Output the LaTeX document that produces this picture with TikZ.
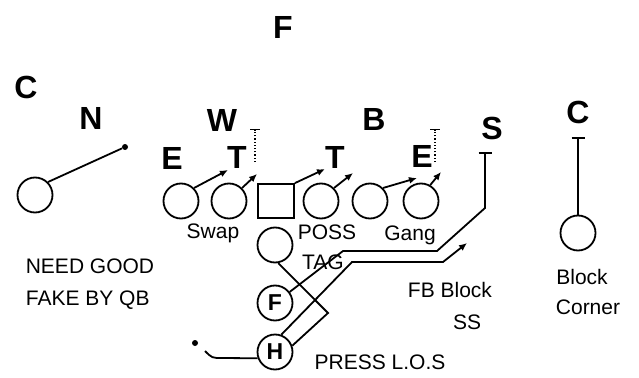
\documentclass[tikz,border=0pt]{standalone}
\usepackage{fontspec}
\setmainfont{Liberation Sans}
\usetikzlibrary{arrows,arrows.meta}

\begin{document}
\begin{tikzpicture}[
x=1pt, y=-1pt,
def/.style={font=\fontsize{32}{32}\selectfont\bfseries, inner sep=0pt},
note/.style={font=\fontsize{21}{32}\selectfont, inner sep=0pt},
player/.style={circle, draw, line width=1.8pt, minimum size=35pt, inner sep=0pt},
snapper/.style={rectangle, draw, line width=1.8pt, minimum width=36pt, minimum height=34pt, inner sep=0pt},
back/.style={player, font=\fontsize{23}{23}\selectfont\bfseries},
dot/.style={circle, fill, inner sep=0pt, minimum size=6pt},
route/.style={line width=1.8pt},
arrow/.style={-{Latex[length=8pt,width=7pt]}, line width=1.8pt},
stop/.style={-{Bar[width=13pt]}, line width=1.8pt},
read/.style={-{Bar[width=10pt]}, dotted, line width=1.2pt}
]

\useasboundingbox (0,0) rectangle (639,377);

\node[def] (FS) at (283,27) {F};

\node[def] (CL) at (26,87) {C};

\node[def] (N) at (91,118) {N};

\node[def] (W) at (222,120) {W};

\node[def] (B) at (374,119) {B};

\node[def] (S) at (492,128) {S};

\node[def] (CR) at (578,112) {C};

\node[def] (EL) at (172,158) {E};

\node[def] (TL) at (237,157) {T};

\node[def] (TR) at (335,157) {T};

\node[def] (ER) at (422,156) {E};

\node[player] (cb) at (35,195) {};

\node[player] (le) at (181,201) {};

\node[player] (lt) at (229,201) {};

\node[snapper] (ctr) at (276,201) {};

\node[player] (rg) at (321,201) {};

\node[player] (rt) at (370,201) {};

\node[player] (te) at (421,201) {};

\node[player] (qb) at (275,245) {};

\node[back] (fb) at (275,303) {F};

\node[back] (hb) at (275,352) {H};

\node[player] (cr) at (578,233) {};

\node[dot] (ndot) at (125,147) {};

\node[dot] (hdot) at (195,343) {};

\coordinate (le1) at (228,170);
\coordinate (lt1) at (257,174);
\coordinate (ctr1) at (325,169);
\coordinate (rg1) at (353,173);
\coordinate (rt1) at (417,178);
\coordinate (te1) at (441,172);

\coordinate (tlr) at (255,162);
\coordinate (tlr1) at (255,129);
\coordinate (err) at (435,162);
\coordinate (err1) at (435,129);

\coordinate (fb1) at (343,251);
\coordinate (fb2) at (437,251);
\coordinate (fb3) at (485,208);
\coordinate (fb4) at (485,152);

\coordinate (hb1) at (352,262);
\coordinate (hb2) at (443,262);
\coordinate (hb3) at (467,243);

\coordinate (qb1) at (328,313);

\coordinate (hd1) at (222,358);
\coordinate (hd2) at (205,351);

\coordinate (cr1) at (578,137);

\draw[route] (cb.north east) -- (ndot);

\draw[arrow] (le.north east) -- (le1);

\draw[arrow] (lt.north east) -- (lt1);

\draw[arrow] (ctr.north east) -- (ctr1);

\draw[arrow] (rg.north east) -- (rg1);

\draw[arrow] (rt.north east) -- (rt1);

\draw[arrow] (te.60) -- (te1);

\draw[read] (tlr) -- (tlr1);

\draw[read] (err) -- (err1);

\draw[stop] (cr.north) -- (cr1);

\draw[stop] (fb.37) -- (fb1) -- (fb2) -- (fb3) -- (fb4);

\draw[arrow] (hb.70) -- (hb1) -- (hb2) -- (hb3);

\draw[route] (qb.280) -- (qb1) -- (hb.20);

\draw[route] (hb.200) -- (hd1) .. controls (212,358) .. (hd2);

\node[note] (swap) at (213,233) {Swap};

\node[note] (poss) at (327,232) {POSS};

\node[note] (tag) at (323,262) {TAG};

\node[note] (gang) at (410,235) {Gang};

\node[note, align=left] (fake) at (90,284) {NEED GOOD\\FAKE BY QB};

\node[note] (fbblock) at (450,290) {FB Block};

\node[note] (ss) at (467,322) {SS};

\node[note] (block) at (582,277) {Block};

\node[note] (corner) at (588,307) {Corner};

\node[note] (press) at (380,362) {PRESS L.O.S};

\end{tikzpicture}
\end{document}
